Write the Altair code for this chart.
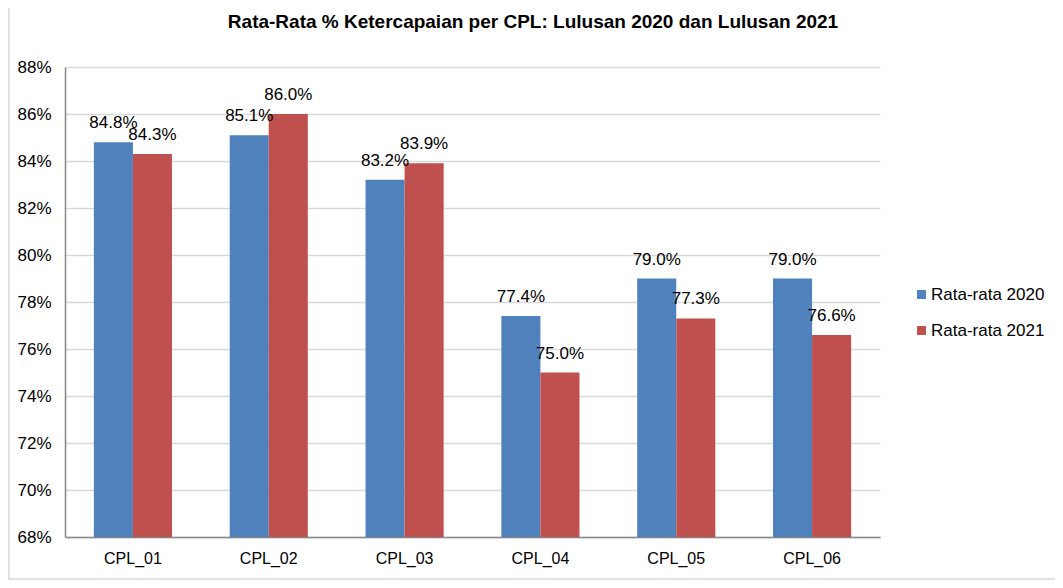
import altair as alt
import pandas as pd

categories = ["CPL_01", "CPL_02", "CPL_03", "CPL_04", "CPL_05", "CPL_06"]
series_names = ["Rata-rata 2020", "Rata-rata 2021"]
values_2020 = [0.848, 0.851, 0.832, 0.774, 0.790, 0.790]
values_2021 = [0.843, 0.860, 0.839, 0.750, 0.773, 0.766]
y_ticks = [0.68, 0.70, 0.72, 0.74, 0.76, 0.78, 0.80, 0.82, 0.84, 0.86, 0.88]
colors = ["#4F81BD", "#C0504D"]
title_text = "Rata-Rata % Ketercapaian per CPL: Lulusan 2020 dan Lulusan 2021"

rows = []
for c, a, b in zip(categories, values_2020, values_2021):
    rows.append({"cpl": c, "series": series_names[0], "value": a})
    rows.append({"cpl": c, "series": series_names[1], "value": b})
df = pd.DataFrame(rows)

FONT = "Liberation Sans"
W, H = 815, 470
PL, PT, PR, PB = 57, 59, 175, 43

x_enc = alt.X("cpl:N", sort=categories,
              scale=alt.Scale(paddingInner=0.425, paddingOuter=0.2125),
              axis=alt.Axis(title=None, labelAngle=0, ticks=False, labelPadding=13,
                            labelFontSize=16, labelFont=FONT, labelColor="#000000",
                            domainColor="#868686", domainWidth=1.5, grid=False))
xoff = alt.XOffset("series:N", sort=series_names, scale=alt.Scale(paddingInner=0, paddingOuter=0))
y_scale = alt.Scale(domain=[0.68, 0.88], zero=False, nice=False)

bars = alt.Chart(df).mark_bar().encode(
    x=x_enc,
    xOffset=xoff,
    y=alt.Y("value:Q", scale=y_scale,
            axis=alt.Axis(title=None, format=".0%", values=y_ticks, ticks=False,
                          labelPadding=14, labelFontSize=17, labelFont=FONT,
                          labelColor="#000000", domainColor="#868686", domainWidth=1.5,
                          grid=True, gridColor="#D9D9D9", gridWidth=1.5)),
    y2=alt.datum(0.68),
    color=alt.Color("series:N", sort=series_names,
                    scale=alt.Scale(domain=series_names, range=colors),
                    legend=alt.Legend(title=None, orient="none", legendX=848, legendY=219,
                                      symbolType="square", symbolSize=80, symbolStrokeWidth=0,
                                      labelFontSize=17, labelFont=FONT, labelColor="#000000",
                                      rowPadding=18, labelOffset=1)),
)

labels = alt.Chart(df).mark_text(baseline="bottom", dy=-10, fontSize=17, font=FONT,
                                 color="#000000").encode(
    x=alt.X("cpl:N", sort=categories),
    xOffset=alt.XOffset("series:N", sort=series_names),
    y=alt.Y("value:Q"),
    text=alt.Text("value:Q", format=".1%"),
)

one = pd.DataFrame({"k": [0]})
title_mark = alt.Chart(one).mark_text(fontSize=19, font=FONT, fontWeight="bold", color="#000000",
                                      align="center", baseline="middle", clip=False).encode(
    x=alt.value(533 - 65), y=alt.value(22 - 67), text=alt.value(title_text))

border = alt.Chart(one).mark_rule(color="#D9D9D9", strokeWidth=1.5, clip=False).encode(
    x=alt.value(-PL + 1), y=alt.value(-PT), y2=alt.value(H + PB - 1))
border2 = alt.Chart(one).mark_rule(color="#D9D9D9", strokeWidth=1.5, clip=False).encode(
    x=alt.value(-PL), x2=alt.value(W + PR), y=alt.value(H + PB - 1))

chart = alt.layer(bars, labels, title_mark, border, border2).properties(
    width=W, height=H,
    autosize=alt.AutoSizeParams(type="none"),
    padding={"left": PL, "top": PT, "right": PR, "bottom": PB},
).configure_view(stroke=None)

chart.save("out.html", embed_options={"renderer": "svg", "actions": False})
